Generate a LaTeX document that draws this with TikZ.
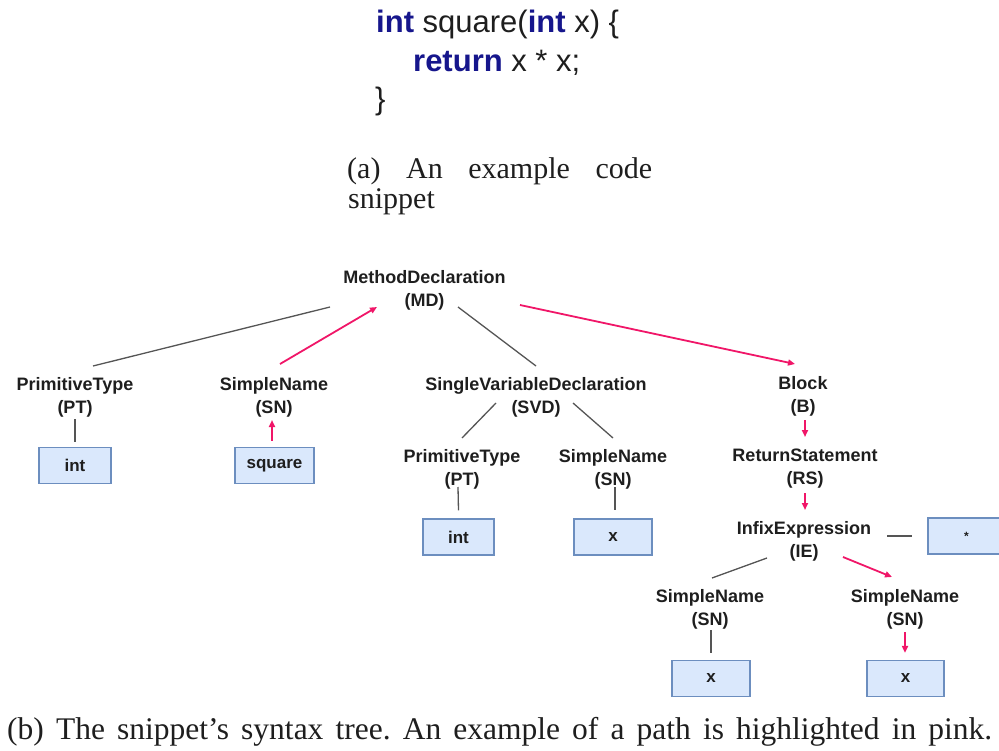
\documentclass[tikz,border=0pt]{standalone}
\usepackage{fontspec}
\setmainfont{Liberation Serif}
\newfontfamily\arial{Liberation Sans}
\usetikzlibrary{arrows.meta}

\definecolor{hlpink}{RGB}{240,22,104}
\definecolor{edgegray}{RGB}{85,85,85}
\definecolor{boxfill}{RGB}{218,232,252}
\definecolor{boxline}{RGB}{108,142,191}
\definecolor{kw}{RGB}{22,22,140}
\definecolor{ink}{RGB}{30,30,30}

\tikzset{
  lbl/.style={font=\arial\bfseries\fontsize{18}{23}\selectfont, align=center,
              inner sep=0pt, text=ink},
  leaf/.style={draw=boxline, fill=boxfill, line width=1.2pt, minimum height=36pt,
               inner sep=0pt, text=ink, font=\arial\bfseries\fontsize{17}{20}\selectfont},
  plain/.style={draw=edgegray, line width=1.3pt},
  hl/.style={draw=hlpink, line width=1.8pt, -{Triangle[length=7pt,width=6pt]}},
  codeline/.style={font=\arial\fontsize{31}{38}\selectfont, inner sep=0pt,
                   anchor=base west, text=ink},
  capline/.style={font=\fontsize{30}{36}\selectfont, inner sep=0pt,
                  anchor=base west, text=ink},
}

\begin{document}
\frenchspacing
\begin{tikzpicture}[x=1pt,y=-1pt]
\useasboundingbox (0,0) rectangle (999,751);

% code snippet
\node[codeline] (code1) at (376,33)
  {{\color{kw}\bfseries int} square({\color{kw}\bfseries int} x) \{};
\node[codeline] (code2) at (413,72)
  {{\color{kw}\bfseries return} x * x;};
\node[codeline] (code3) at (375,110) {\}};

% caption (a)
\node[capline] (capa1) at (347,179) {\makebox[305pt][s]{(a) An example code}};
\node[capline] (capa2) at (348,209) {snippet};

% tree labels
\node[lbl] (md)   at (424.5,290) {MethodDeclaration\\(MD)};
\node[lbl] (pt1)  at (75,397)    {PrimitiveType\\(PT)};
\node[lbl] (sn1)  at (274,397)   {SimpleName\\(SN)};
\node[lbl] (svd)  at (536,397)   {SingleVariableDeclaration\\(SVD)};
\node[lbl] (blk)  at (803,396)   {Block\\(B)};
\node[lbl] (pt2)  at (462,469)   {PrimitiveType\\(PT)};
\node[lbl] (sn2)  at (613,469)   {SimpleName\\(SN)};
\node[lbl] (rs)   at (805,469)   {ReturnStatement\\(RS)};
\node[lbl] (ie)   at (804,541)   {InfixExpression\\(IE)};
\node[lbl] (sn3)  at (710,609)   {SimpleName\\(SN)};
\node[lbl] (sn4)  at (905,609)   {SimpleName\\(SN)};

% leaves
\node[leaf, minimum width=72pt] (int1) at (75,465.5)    {int};
\node[leaf, minimum width=79pt] (sq)   at (274.5,465.5) {square};
\node[leaf, minimum width=71pt] (int2) at (458.5,537)   {int};
\node[leaf, minimum width=78pt] (x2)   at (613,537)     {x};
\node[leaf, minimum width=77pt] (star) at (966.5,536)   {\raisebox{-4pt}{\fontsize{12}{12}\selectfont *}};
\node[leaf, minimum width=78pt] (x3)   at (711,678.5)   {x};
\node[leaf, minimum width=77pt] (x4)   at (905.5,678.5) {x};

% plain tree edges
\draw[plain] ([shift={(-94.5,17)}]md.center) -- ([shift={(18,-31)}]pt1.center);
\draw[plain] ([shift={(33.5,17)}]md.center) -- ([shift={(0,-31)}]svd.center);
\draw[plain] ([shift={(0,22)}]pt1.center) -- ([shift={(0,-5)}]int1.north);
\draw[plain] ([shift={(-40,6)}]svd.center) -- ([shift={(0,-31)}]pt2.center);
\draw[plain] ([shift={(37,6)}]svd.center) -- ([shift={(0,-31)}]sn2.center);
\draw[plain] ([shift={(-4,18)}]pt2.center) -- ([shift={(0,-8)}]int2.north);
\draw[plain] ([shift={(2,18)}]sn2.center) -- ([shift={(2,-8)}]x2.north);
\draw[plain] ([shift={(83,-5)}]ie.center) -- ([shift={(-15,0)}]star.west);
\draw[plain] ([shift={(-37,17)}]ie.center) -- ([shift={(2,-31)}]sn3.center);
\draw[plain] ([shift={(1,21)}]sn3.center) -- ([shift={(0,-7)}]x3.north);

% highlighted path
\draw[hl] ([shift={(-2.5,-6)}]sq.north) -- ([shift={(-2,23)}]sn1.center);
\draw[hl] ([shift={(6,-33)}]sn1.center) -- ([shift={(-47.5,17)}]md.center);
\draw[hl] ([shift={(95.5,15)}]md.center) -- ([shift={(-8,-32)}]blk.center);
\draw[hl] ([shift={(2,24)}]blk.center) -- ([shift={(0,-32)}]rs.center);
\draw[hl] ([shift={(0,24)}]rs.center) -- ([shift={(1,-31)}]ie.center);
\draw[hl] ([shift={(39,16)}]ie.center) -- ([shift={(-13,-32)}]sn4.center);
\draw[hl] ([shift={(0,23)}]sn4.center) -- ([shift={(-0.5,-7)}]x4.north);

% caption (b)
\node[capline, font=\fontsize{31.5}{36}\selectfont] (capb) at (7,739)
  {\makebox[985pt][s]{(b) The snippet’s syntax tree. An example of a path is highlighted in pink.}};
\end{tikzpicture}
\end{document}
